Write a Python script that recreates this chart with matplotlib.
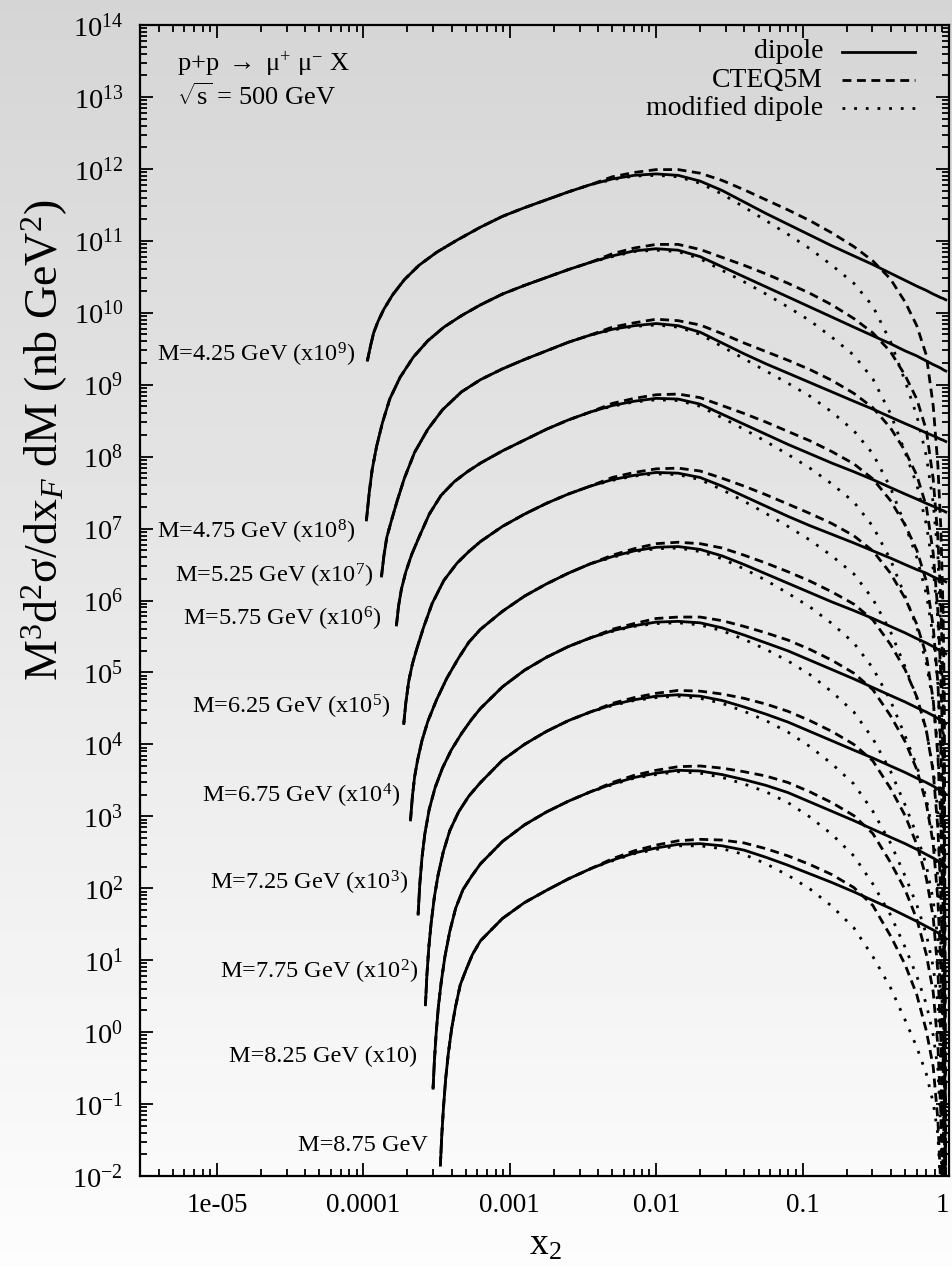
import numpy as np
import matplotlib
matplotlib.use('Agg')
import matplotlib.pyplot as plt
from matplotlib.ticker import FixedLocator, LogLocator, NullFormatter

plt.rcParams['font.family'] = ['Liberation Serif', 'DejaVu Serif']
plt.rcParams['mathtext.fontset'] = 'custom'
plt.rcParams['mathtext.rm'] = 'Liberation Serif'
plt.rcParams['mathtext.it'] = 'Liberation Serif:italic'
plt.rcParams['mathtext.bf'] = 'Liberation Serif:bold'

# curve labels
masses = ['4.25', '4.75', '5.25', '5.75', '6.25', '6.75', '7.25', '7.75', '8.25', '8.75']
factors = [' (x10$^{9}$)', ' (x10$^{8}$)', ' (x10$^{7}$)', ' (x10$^{6}$)', ' (x10$^{5}$)',
           ' (x10$^{4}$)', ' (x10$^{3}$)', ' (x10$^{2}$)', ' (x10)', '']

# steep start of each curve: log10(x2), log10(scaled cross section)
start_lx = [
    [-3.972, -3.95, -3.93, -3.90, -3.86, -3.80, -3.72, -3.62, -3.50, -3.36],
    [-3.979, -3.96, -3.94, -3.91, -3.87, -3.82, -3.75, -3.66, -3.56, -3.45, -3.33],
    [-3.876, -3.86, -3.84, -3.81, -3.77, -3.72, -3.65, -3.56, -3.46, -3.33],
    [-3.774, -3.76, -3.74, -3.71, -3.67, -3.62, -3.55, -3.47, -3.38, -3.29],
    [-3.724, -3.71, -3.69, -3.665, -3.635, -3.59, -3.53, -3.45, -3.36, -3.28],
    [-3.678, -3.665, -3.65, -3.63, -3.60, -3.56, -3.50, -3.43, -3.35, -3.28],
    [-3.626, -3.615, -3.60, -3.58, -3.55, -3.51, -3.46, -3.40, -3.33, -3.26],
    [-3.576, -3.566, -3.553, -3.537, -3.515, -3.49, -3.455, -3.41, -3.35, -3.28],
    [-3.524, -3.515, -3.503, -3.488, -3.468, -3.443, -3.41, -3.37, -3.32, -3.26],
    [-3.474, -3.465, -3.453, -3.438, -3.42, -3.397, -3.37, -3.338, -3.30, -3.255],
]
start_ly = [
    [9.34, 9.55, 9.72, 9.88, 10.05, 10.25, 10.46, 10.66, 10.84, 11.01],
    [7.12, 7.50, 7.82, 8.14, 8.47, 8.80, 9.10, 9.38, 9.61, 9.80, 9.96],
    [6.34, 6.62, 6.88, 7.10, 7.38, 7.70, 8.06, 8.38, 8.65, 8.90],
    [5.66, 5.92, 6.16, 6.40, 6.64, 6.88, 7.20, 7.46, 7.65, 7.79],
    [4.29, 4.58, 4.88, 5.12, 5.33, 5.62, 5.96, 6.28, 6.52, 6.68],
    [2.95, 3.28, 3.55, 3.78, 4.05, 4.32, 4.62, 4.92, 5.20, 5.42],
    [1.64, 2.05, 2.42, 2.76, 3.10, 3.40, 3.67, 3.92, 4.15, 4.35],
    [0.38, 0.80, 1.18, 1.52, 1.88, 2.18, 2.50, 2.80, 3.06, 3.28],
    [-0.78, -0.40, -0.02, 0.35, 0.70, 1.05, 1.40, 1.72, 1.98, 2.17],
    [-1.85, -1.45, -1.05, -0.65, -0.30, 0.05, 0.36, 0.66, 0.86, 1.08],
]

# common log10(x2) points from the rise to the end
grid_lx = [-3.20, -3.05, -2.90, -2.75, -2.60, -2.45, -2.30, -2.15, -2.00, -1.85, -1.70, -1.55,
           -1.40, -1.25, -1.10, -0.95, -0.80, -0.65, -0.52, -0.40, -0.30, -0.22, -0.155,
           -0.108, -0.076, -0.056, -0.041, -0.032, -0.022]

# dipole, log10 values on grid_lx
dipole_ly = [
    [11.19, 11.34, 11.46, 11.57, 11.68, 11.78, 11.86, 11.91, 11.93, 11.91, 11.83, 11.70, 11.54, 11.38, 11.23,
     11.08, 10.93, 10.79, 10.67, 10.55, 10.45, 10.37, 10.31, 10.26, 10.23, 10.21, 10.20, 10.19, 10.18],
    [10.11, 10.26, 10.38, 10.49, 10.60, 10.70, 10.79, 10.86, 10.89, 10.87, 10.78, 10.64, 10.50, 10.36, 10.22,
     10.08, 9.94, 9.80, 9.68, 9.57, 9.47, 9.40, 9.33, 9.28, 9.25, 9.23, 9.21, 9.20, 9.19],
    [9.07, 9.22, 9.35, 9.47, 9.59, 9.69, 9.77, 9.82, 9.85, 9.82, 9.73, 9.58, 9.43, 9.29, 9.16,
     9.03, 8.90, 8.77, 8.66, 8.55, 8.46, 8.39, 8.33, 8.29, 8.26, 8.24, 8.23, 8.22, 8.21],
    [7.91, 8.08, 8.23, 8.38, 8.51, 8.62, 8.71, 8.77, 8.81, 8.80, 8.73, 8.59, 8.45, 8.31, 8.17,
     8.04, 7.91, 7.79, 7.68, 7.57, 7.48, 7.41, 7.35, 7.31, 7.28, 7.26, 7.25, 7.24, 7.23],
    [6.82, 7.03, 7.20, 7.35, 7.48, 7.59, 7.68, 7.74, 7.78, 7.77, 7.71, 7.59, 7.45, 7.31, 7.17,
     7.04, 6.92, 6.80, 6.69, 6.59, 6.50, 6.43, 6.38, 6.33, 6.30, 6.29, 6.28, 6.27, 6.26],
    [5.60, 5.85, 6.06, 6.23, 6.38, 6.51, 6.61, 6.69, 6.74, 6.75, 6.71, 6.62, 6.50, 6.37, 6.24,
     6.11, 5.98, 5.86, 5.75, 5.64, 5.55, 5.47, 5.41, 5.36, 5.32, 5.30, 5.28, 5.27, 5.26],
    [4.50, 4.80, 5.03, 5.21, 5.36, 5.48, 5.58, 5.65, 5.70, 5.71, 5.69, 5.62, 5.52, 5.41, 5.30,
     5.17, 5.04, 4.91, 4.79, 4.68, 4.59, 4.51, 4.45, 4.40, 4.36, 4.33, 4.31, 4.30, 4.29],
    [3.47, 3.78, 4.00, 4.18, 4.33, 4.45, 4.55, 4.62, 4.67, 4.69, 4.67, 4.61, 4.52, 4.42, 4.31,
     4.18, 4.05, 3.92, 3.81, 3.70, 3.61, 3.53, 3.47, 3.42, 3.38, 3.35, 3.33, 3.32, 3.31],
    [2.34, 2.65, 2.88, 3.06, 3.21, 3.34, 3.45, 3.54, 3.60, 3.64, 3.63, 3.58, 3.51, 3.43, 3.33,
     3.20, 3.07, 2.94, 2.82, 2.71, 2.62, 2.54, 2.47, 2.42, 2.38, 2.35, 2.33, 2.31, 2.30],
    [1.27, 1.58, 1.80, 1.97, 2.13, 2.27, 2.39, 2.49, 2.56, 2.61, 2.62, 2.59, 2.53, 2.43, 2.32,
     2.20, 2.08, 1.95, 1.83, 1.72, 1.62, 1.54, 1.47, 1.42, 1.38, 1.35, 1.33, 1.31, 1.30],
]

# log10(CTEQ5M / dipole) on grid_lx from -2.30 on
cteq_gap = [
    [0.03, 0.04, 0.06, 0.08, 0.11, 0.14, 0.17, 0.19, 0.20, 0.20, 0.18, 0.13, 0.05, -0.08, -0.30, -0.55, -0.90, -1.55, -2.35, -3.20, -4.30, -5.50, -13],
    [0.03, 0.04, 0.06, 0.08, 0.10, 0.13, 0.16, 0.18, 0.19, 0.19, 0.17, 0.12, 0.04, -0.11, -0.34, -0.60, -0.96, -1.59, -2.38, -3.23, -4.36, -5.58, -13],
    [0.03, 0.04, 0.06, 0.07, 0.10, 0.13, 0.15, 0.17, 0.18, 0.18, 0.16, 0.11, 0.02, -0.15, -0.38, -0.65, -1.02, -1.63, -2.41, -3.27, -4.41, -5.66, -13],
    [0.03, 0.04, 0.05, 0.07, 0.09, 0.12, 0.15, 0.17, 0.18, 0.18, 0.16, 0.11, 0.01, -0.18, -0.43, -0.71, -1.08, -1.67, -2.43, -3.30, -4.47, -5.73, -13],
    [0.03, 0.04, 0.05, 0.07, 0.09, 0.11, 0.14, 0.16, 0.17, 0.17, 0.15, 0.10, 0.00, -0.21, -0.47, -0.76, -1.14, -1.71, -2.46, -3.33, -4.52, -5.81, -13],
    [0.02, 0.03, 0.05, 0.06, 0.08, 0.11, 0.13, 0.15, 0.16, 0.16, 0.14, 0.09, -0.02, -0.25, -0.51, -0.81, -1.21, -1.74, -2.49, -3.37, -4.58, -5.89, -13],
    [0.02, 0.03, 0.05, 0.06, 0.08, 0.10, 0.12, 0.14, 0.15, 0.15, 0.13, 0.08, -0.03, -0.28, -0.55, -0.86, -1.27, -1.78, -2.52, -3.40, -4.63, -5.97, -13],
    [0.02, 0.03, 0.04, 0.06, 0.07, 0.09, 0.12, 0.14, 0.15, 0.15, 0.13, 0.08, -0.04, -0.31, -0.60, -0.92, -1.33, -1.82, -2.54, -3.43, -4.69, -6.04, -13],
    [0.02, 0.03, 0.04, 0.05, 0.07, 0.09, 0.11, 0.13, 0.14, 0.14, 0.12, 0.07, -0.06, -0.35, -0.64, -0.97, -1.39, -1.86, -2.57, -3.47, -4.74, -6.12, -13],
    [0.02, 0.03, 0.04, 0.05, 0.06, 0.08, 0.10, 0.12, 0.13, 0.13, 0.11, 0.06, -0.07, -0.38, -0.68, -1.02, -1.45, -1.90, -2.60, -3.50, -4.80, -6.20, -13],
]
# log10(modified dipole / dipole) on grid_lx from -2.30 on
mod_gap = [
    [-0.01, -0.01, -0.02, -0.02, -0.03, -0.05, -0.07, -0.10, -0.14, -0.19, -0.27, -0.38, -0.58, -0.95, -1.40, -1.80, -2.30, -2.90, -3.60, -4.60, -6.00, -8.00, -13],
    [-0.01, -0.01, -0.02, -0.02, -0.03, -0.05, -0.07, -0.10, -0.14, -0.19, -0.28, -0.39, -0.60, -0.97, -1.41, -1.79, -2.27, -2.84, -3.51, -4.49, -5.89, -7.89, -13],
    [-0.01, -0.01, -0.02, -0.02, -0.03, -0.05, -0.07, -0.10, -0.14, -0.19, -0.28, -0.41, -0.62, -0.98, -1.41, -1.79, -2.24, -2.79, -3.42, -4.38, -5.78, -7.78, -13],
    [-0.01, -0.01, -0.02, -0.02, -0.03, -0.05, -0.07, -0.10, -0.14, -0.20, -0.29, -0.42, -0.65, -1.00, -1.42, -1.78, -2.22, -2.73, -3.33, -4.27, -5.67, -7.67, -13],
    [-0.01, -0.01, -0.02, -0.02, -0.03, -0.05, -0.07, -0.10, -0.14, -0.20, -0.30, -0.43, -0.67, -1.02, -1.42, -1.78, -2.19, -2.68, -3.24, -4.16, -5.56, -7.56, -13],
    [-0.01, -0.01, -0.02, -0.02, -0.03, -0.04, -0.06, -0.09, -0.14, -0.20, -0.30, -0.45, -0.69, -1.03, -1.43, -1.77, -2.16, -2.62, -3.16, -4.04, -5.44, -7.44, -13],
    [-0.01, -0.01, -0.02, -0.02, -0.03, -0.04, -0.06, -0.09, -0.14, -0.20, -0.31, -0.46, -0.71, -1.05, -1.43, -1.77, -2.13, -2.57, -3.07, -3.93, -5.33, -7.33, -13],
    [-0.01, -0.01, -0.02, -0.02, -0.03, -0.04, -0.06, -0.09, -0.14, -0.21, -0.32, -0.47, -0.74, -1.07, -1.44, -1.76, -2.11, -2.51, -2.98, -3.82, -5.22, -7.22, -13],
    [-0.01, -0.01, -0.02, -0.02, -0.03, -0.04, -0.06, -0.09, -0.14, -0.21, -0.32, -0.49, -0.76, -1.08, -1.44, -1.76, -2.08, -2.46, -2.89, -3.71, -5.11, -7.11, -13],
    [-0.01, -0.01, -0.02, -0.02, -0.03, -0.04, -0.06, -0.09, -0.14, -0.21, -0.33, -0.50, -0.78, -1.10, -1.45, -1.75, -2.05, -2.40, -2.80, -3.60, -5.00, -7.00, -13],
]

xtick_vals = [1e-5, 1e-4, 1e-3, 1e-2, 1e-1, 1]
xtick_labels = ['1e-05', '0.0001', '0.001', '0.01', '0.1', '1']
ytick_exp = list(range(-2, 15))

# label anchors (axes fraction: right edge, centre)
label_pos = [(0.2658, 0.7133), (0.2658, 0.5598), (0.288, 0.5213), (0.2988, 0.4839), (0.3099, 0.4075),
             (0.3214, 0.3304), (0.3316, 0.2543), (0.344, 0.1775), (0.342, 0.1037), (0.3564, 0.0269)]

fig = plt.figure(figsize=(9.53, 12.67), dpi=100)

# grey gradient background
bg = fig.add_axes([0, 0, 1, 1], zorder=-10)
grad = np.linspace(0.835, 0.99, 256).reshape(-1, 1)
bg.imshow(grad, aspect='auto', cmap='gray', vmin=0, vmax=1, extent=[0, 1, 0, 1], origin='upper')
bg.axis('off')

ax = fig.add_axes([140 / 953, 91 / 1267, 809 / 953, 1151 / 1267])
ax.set_facecolor('none')
ax.set_xscale('log')
ax.set_yscale('log')

lw = 2.0
dash_cteq = (3.2, 2.0)
dash_mod = (1.0, 3.2)
n_flat = len(grid_lx) - len(cteq_gap[0])
for k in range(len(masses)):
    x = 10 ** np.array(start_lx[k] + grid_lx)
    dip = np.array(start_ly[k] + dipole_ly[k])
    ratio_c = np.concatenate([np.zeros(len(start_lx[k]) + n_flat), cteq_gap[k]])
    ratio_m = np.concatenate([np.zeros(len(start_lx[k]) + n_flat), mod_gap[k]])
    ax.plot(x, 10 ** dip, color='black', lw=lw)
    ax.plot(x, 10 ** (dip + ratio_c), color='black', lw=lw, dashes=dash_cteq)
    ax.plot(x, 10 ** (dip + ratio_m), color='black', lw=lw, dashes=dash_mod)
    ax.text(label_pos[k][0], label_pos[k][1], 'M=' + masses[k] + ' GeV' + factors[k],
            transform=ax.transAxes, ha='right', va='center', fontsize=17.5)

ax.set_xlim(2.98e-6, 1)
ax.set_ylim(1e-2, 1e14)

ax.xaxis.set_major_locator(FixedLocator(xtick_vals))
ax.set_xticklabels(xtick_labels)
ax.get_xticklabels()[-1].set_horizontalalignment('right')
ax.xaxis.set_minor_locator(LogLocator(base=10, subs=np.arange(2, 10), numticks=20))
ax.xaxis.set_minor_formatter(NullFormatter())
ax.yaxis.set_major_locator(FixedLocator([10.0 ** e for e in ytick_exp]))
ax.set_yticklabels(['10$^{%d}$' % e for e in ytick_exp])
ax.yaxis.set_minor_locator(LogLocator(base=10, subs=np.arange(2, 10), numticks=30))
ax.yaxis.set_minor_formatter(NullFormatter())

ax.tick_params(which='both', direction='in', top=True, right=True, width=1.3)
ax.tick_params(which='major', length=9.5)
ax.tick_params(axis='x', which='major', pad=12, labelsize=19.5)
ax.tick_params(axis='y', which='major', pad=12, labelsize=20.5)
ax.tick_params(which='minor', length=5)
for s in ax.spines.values():
    s.set_linewidth(1.6)

# legend drawn by hand
leg = [('dipole', None), ('CTEQ5M', dash_cteq), ('modified dipole', dash_mod)]
leg_y = [0.9768, 0.9522, 0.9276]
for (name, ds), yy in zip(leg, leg_y):
    ax.text(0.8443, yy, name, transform=ax.transAxes, ha='right', va='center', fontsize=20)
    if ds is None:
        ax.plot([0.8678, 0.958], [yy, yy], transform=ax.transAxes, color='black', lw=lw)
    else:
        ax.plot([0.8678, 0.958], [yy, yy], transform=ax.transAxes, color='black', lw=lw, dashes=ds)

ax.text(0.046, 0.9655, r'p+p $\rightarrow$ μ$^{+}$ μ$^{-}$ X', transform=ax.transAxes,
        ha='left', va='center', fontsize=19)
ax.text(0.046, 0.9375, r'$\sqrt{\mathrm{s}}$ = 500 GeV', transform=ax.transAxes,
        ha='left', va='center', fontsize=19)

fig.text(45 / 953, 1 - 440 / 1267, 'M$^{3}$d$^{2}$σ/dx$_{F}$ dM (nb GeV$^{2}$)',
         rotation=90, ha='center', va='center', fontsize=33)
fig.text(545 / 953, 1 - 1245 / 1267, 'x$_{2}$', ha='center', va='center', fontsize=27)

fig.savefig('out.png', dpi=100)
